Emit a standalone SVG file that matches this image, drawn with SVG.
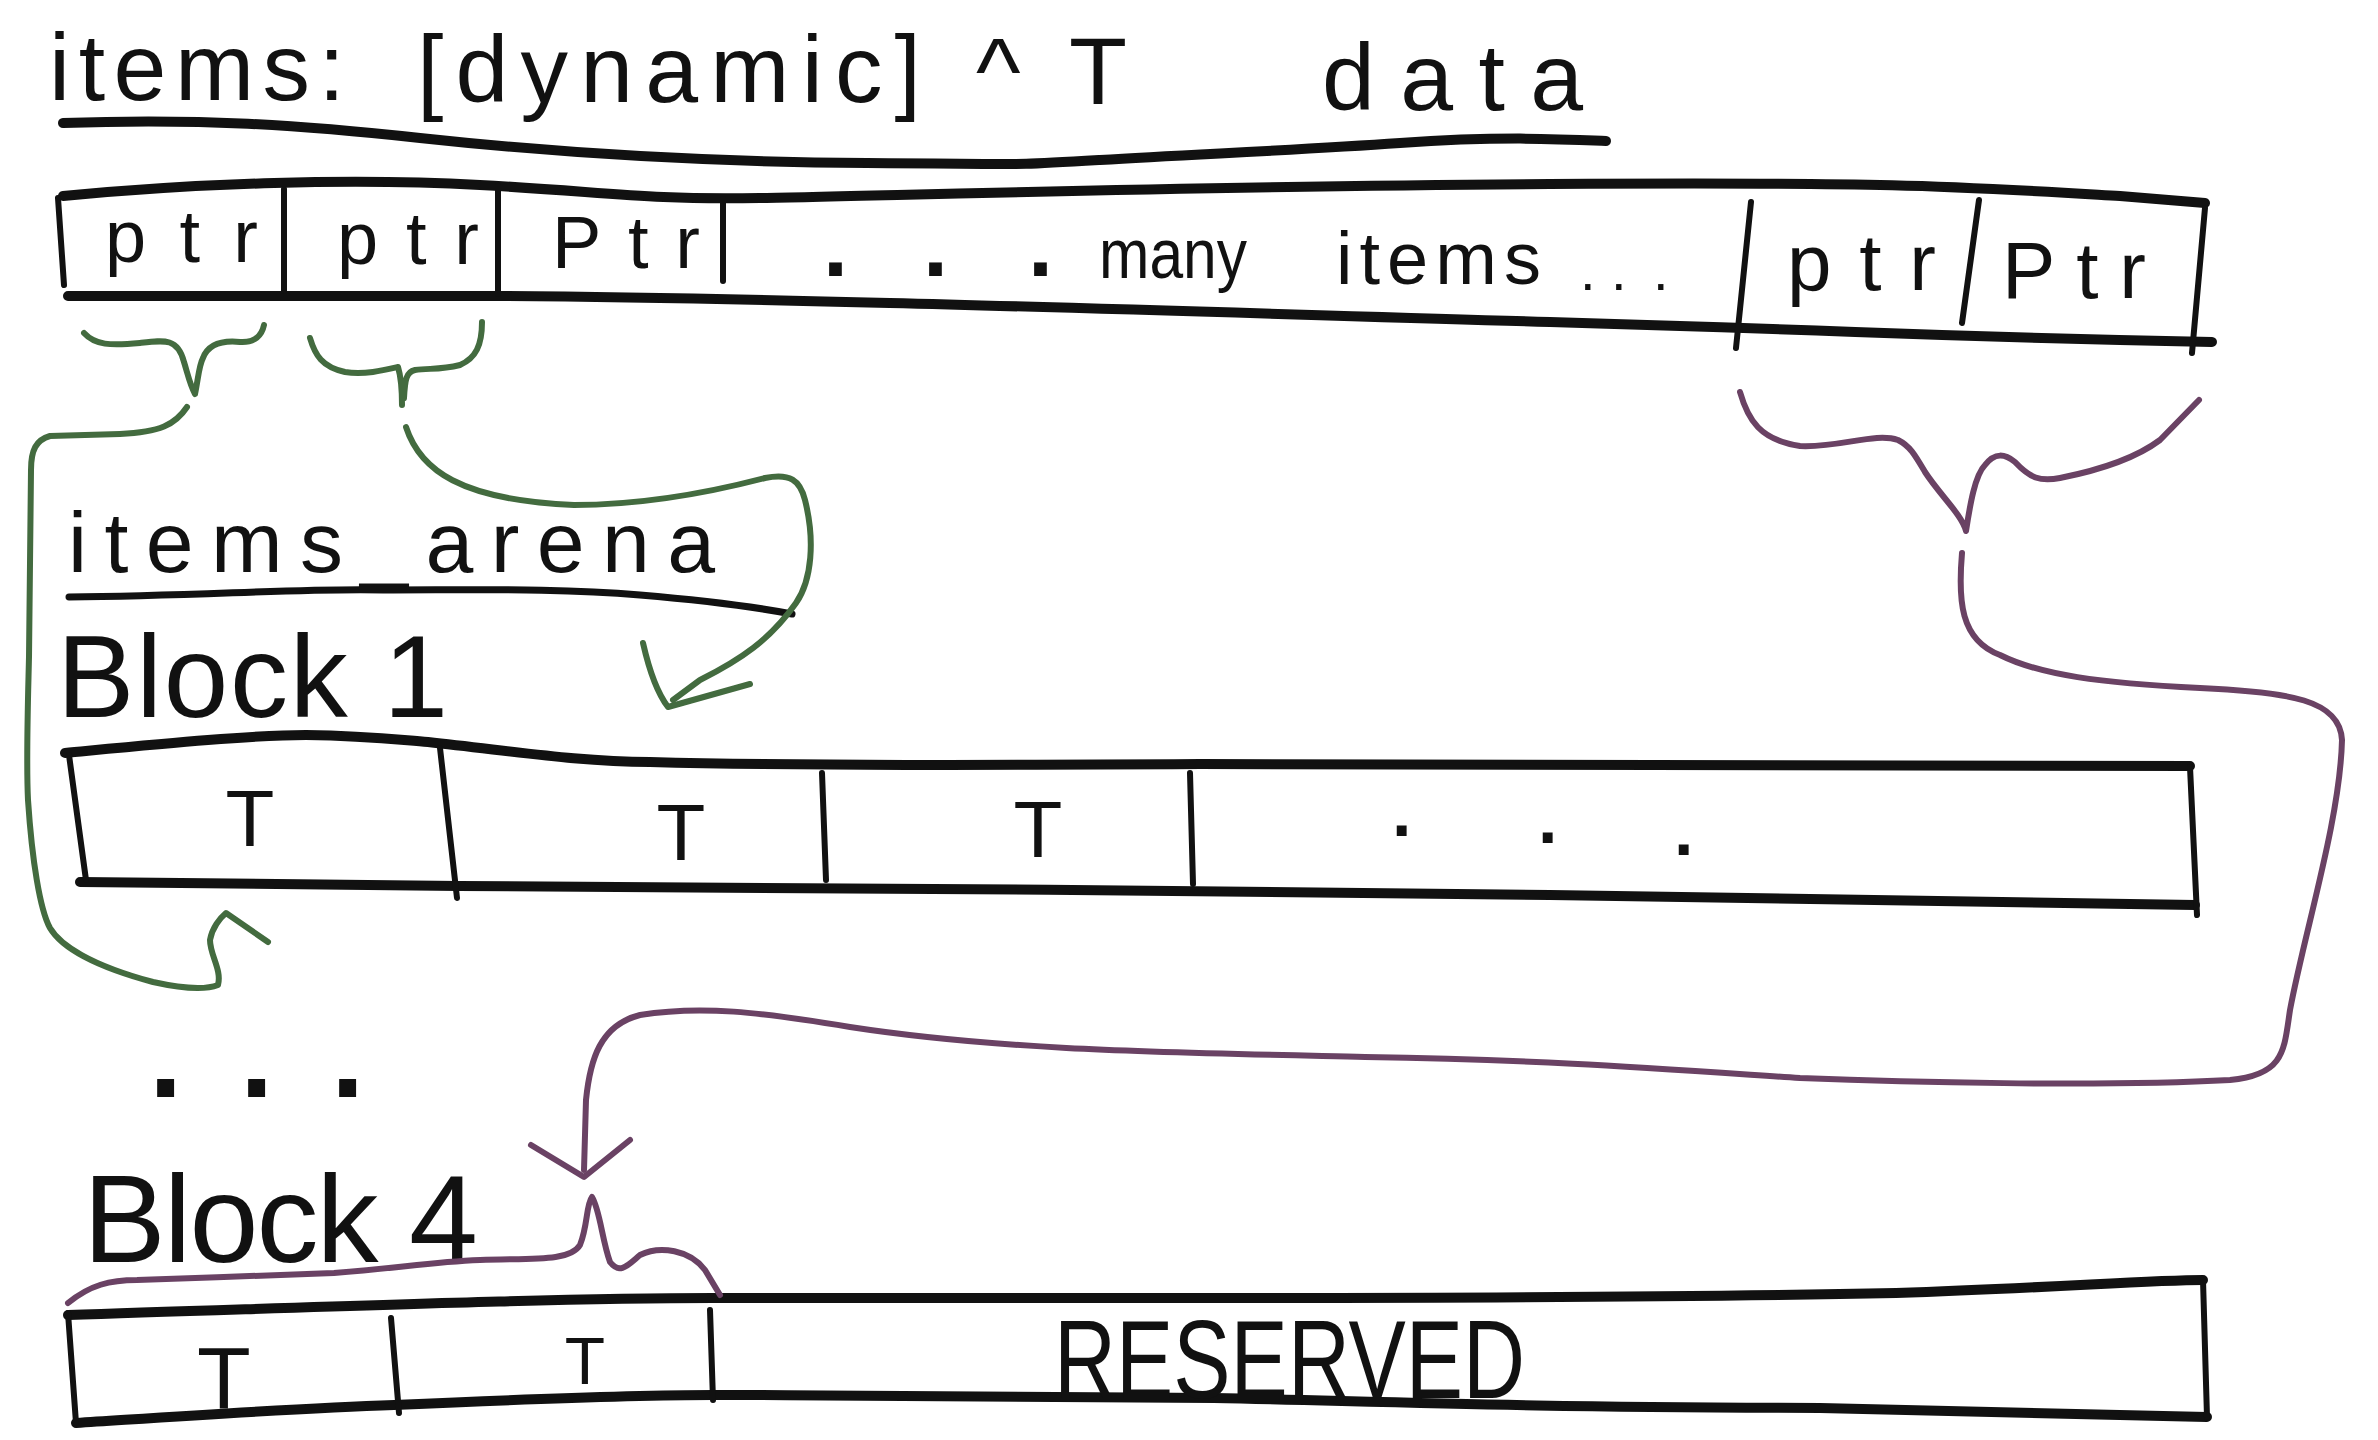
<svg xmlns="http://www.w3.org/2000/svg" width="2378" height="1440" viewBox="0 0 2378 1440">
<style>
.bg{fill:#ffffff}
.ink{fill:none;stroke:#111;stroke-linecap:round;stroke-linejoin:round}
.edge{stroke-width:10}
.div{stroke-width:6}
.t{font-family:"Liberation Sans","DejaVu Sans",sans-serif;fill:#111}
.green{fill:none;stroke:#436b3f;stroke-width:6;stroke-linecap:round;stroke-linejoin:round}
.purple{fill:none;stroke:#6a4264;stroke-width:6;stroke-linecap:round;stroke-linejoin:round}
</style>
<rect class="bg" x="0" y="0" width="2378" height="1440"/>

<g id="title">
  <text class="t" x="49" y="100" font-size="95" textLength="296">items:</text>
  <text class="t" x="417" y="102" font-size="95" textLength="504">[dynamic]</text>
  <text class="t" x="976" y="104" font-size="95" textLength="151">^T</text>
  <text class="t" x="1322" y="110" font-size="95" textLength="261">data</text>
  <path class="ink" stroke-width="10" d="M 63 123 C 200 118, 300 125, 420 138 S 700 162, 867 163 S 1000 166, 1100 160 S 1300 150, 1400 143 S 1560 139, 1606 141"/>
</g>

<g id="items-array">
  <path class="ink edge" d="M 63 196 C 200 183, 350 178, 480 185 S 640 200, 760 198 S 1200 186, 1550 184 S 1950 186, 2120 196 L 2205 203"/>
  <path class="ink edge" d="M 68 296 L 494 296 C 800 298, 1200 312, 1550 322 S 1900 336, 2212 342"/>
  <path class="ink div" d="M 58 198 L 64 285"/>
  <path class="ink div" d="M 284 189 L 284 291"/>
  <path class="ink div" d="M 498 186 L 498 294"/>
  <path class="ink div" d="M 723 199 L 723 281"/>
  <path class="ink div" d="M 1751 202 L 1736 348"/>
  <path class="ink div" d="M 1979 200 L 1962 323"/>
  <path class="ink div" d="M 2205 208 L 2192 353"/>
  <text class="t" x="105" y="262" font-size="74" textLength="153">ptr</text>
  <text class="t" x="337" y="264" font-size="74" textLength="142">ptr</text>
  <text class="t" x="552" y="268" font-size="74" textLength="148">Ptr</text>
  <text class="t" font-size="90" font-weight="bold" x="823 923 1028" y="276">...</text>
  <text class="t" x="1099" y="278" font-size="70" textLength="148" lengthAdjust="spacingAndGlyphs">many</text>
  <text class="t" x="1336" y="284" font-size="74" textLength="205">items</text>
  <text class="t" font-size="56" x="1580 1611 1653" y="290">...</text>
  <text class="t" x="1787" y="290" font-size="80" textLength="149">ptr</text>
  <text class="t" x="2002" y="298" font-size="80" textLength="144">Ptr</text>
</g>

<g id="items-arena-label">
  <text class="t" x="68" y="572" font-size="86" textLength="647">items_arena</text>
  <path class="ink" stroke-width="7" d="M 69 597 C 200 596, 300 588, 383 590 C 480 590, 560 588, 640 595 C 700 600, 750 606, 792 614"/>
</g>

<g id="block-1">
  <text class="t" x="57" y="717" font-size="116" textLength="391">Block 1</text>
  <path class="ink edge" d="M 65 753 C 150 745, 250 735, 306 735 C 370 736, 400 740, 428 742 C 520 752, 580 762, 650 762 C 800 766, 1000 765, 1200 764 L 2190 766"/>
  <path class="ink edge" d="M 80 882 L 459 886 C 800 888, 1200 890, 1550 895 L 2195 905"/>
  <path class="ink div" d="M 69 755 L 86 880"/>
  <path class="ink div" d="M 440 748 L 457 898"/>
  <path class="ink div" d="M 822 773 L 826 880"/>
  <path class="ink div" d="M 1190 773 L 1193 884"/>
  <path class="ink div" d="M 2190 767 L 2197 915"/>
  <text class="t" x="250" y="846" font-size="80" text-anchor="middle">T</text>
  <text class="t" x="681" y="860" font-size="80" text-anchor="middle">T</text>
  <text class="t" x="1038" y="857" font-size="80" text-anchor="middle">T</text>
  <text class="t" font-size="70" font-weight="bold" x="1392 1538 1674" y="836 843 855">...</text>
</g>

<g id="more-blocks">
  <text class="t" font-size="120" font-weight="bold" x="149 240 331" y="1097">...</text>
</g>

<g id="block-4">
  <text class="t" x="83" y="1262" font-size="124" textLength="395">Block 4</text>
  <path class="ink edge" d="M 68 1315 C 300 1308, 550 1298, 713 1298 L 1214 1298 C 1500 1298, 1700 1297, 1896 1293 C 2050 1288, 2150 1280, 2203 1280"/>
  <path class="ink edge" d="M 76 1423 C 200 1415, 300 1408, 394 1405 C 550 1398, 650 1395, 713 1395 C 900 1395, 1100 1398, 1214 1398 C 1400 1402, 1500 1407, 1820 1408 L 2207 1417"/>
  <path class="ink div" d="M 68 1313 L 76 1423"/>
  <path class="ink div" d="M 391 1318 L 399 1413"/>
  <path class="ink div" d="M 710 1310 L 713 1400"/>
  <path class="ink div" d="M 2203 1280 L 2207 1417"/>
  <text class="t" x="224" y="1408" font-size="88" text-anchor="middle">T</text>
  <text class="t" x="585" y="1384" font-size="66" text-anchor="middle">T</text>
  <text class="t" x="1054" y="1398" font-size="112" textLength="471" lengthAdjust="spacingAndGlyphs">RESERVED</text>
</g>

<g id="connectors">
  <path class="green" d="M 84 333 C 95 345, 110 346, 140 343 C 165 340, 178 338, 184 362 C 188 375, 190 385, 195 394 C 198 380, 199 365, 203 358 C 208 345, 220 340, 240 342 C 255 343, 262 335, 264 325"/>
  <path class="green" d="M 310 338 C 315 355, 322 367, 345 372 C 365 375, 385 370, 398 367 C 402 380, 402 395, 402 405 M 404 398 C 405 380, 406 372, 415 370 C 430 368, 440 370, 460 365 C 476 358, 482 345, 482 322"/>
  <path class="green" d="M 187 407 C 175 425, 160 432, 120 434 L 50 436 C 36 440, 31 450, 31 470 L 29 657 C 28 700, 26 760, 28 800 C 32 860, 40 910, 50 928 C 60 945, 90 965, 153 982 C 180 988, 205 990, 218 985 C 222 970, 210 955, 210 940 C 212 928, 220 918, 226 913 L 268 942"/>
  <path class="green" d="M 406 427 C 420 470, 460 500, 574 505 C 640 505, 700 495, 765 478 C 790 473, 800 480, 805 500 C 815 540, 812 580, 796 603 C 770 640, 740 660, 700 680 L 673 700"/>
  <path class="green" stroke-width="8" d="M 643 643 C 648 665, 655 690, 668 707 L 750 684"/>
  <path class="purple" d="M 1740 392 C 1748 420, 1760 440, 1800 446 C 1840 448, 1875 432, 1898 440 C 1910 446, 1915 455, 1925 472 C 1940 495, 1962 515, 1966 531 C 1970 505, 1975 475, 1985 465 C 1995 452, 2005 454, 2015 462 C 2030 478, 2040 482, 2060 478 C 2110 468, 2140 455, 2160 440 L 2199 400"/>
  <path class="purple" d="M 1962 553 C 1958 600, 1960 640, 2000 655 C 2040 675, 2100 683, 2200 688 C 2290 692, 2340 700, 2342 740 C 2340 820, 2305 930, 2290 1010 C 2284 1050, 2285 1075, 2230 1080 C 2100 1087, 1900 1082, 1800 1078 C 1650 1068, 1550 1060, 1365 1057 C 1150 1052, 1000 1050, 850 1027 C 760 1012, 700 1005, 640 1015 C 600 1025, 590 1060, 586 1100 L 584 1170"/>
  <path class="purple" d="M 531 1145 L 584 1177 L 630 1140"/>
  <path class="purple" d="M 68 1303 C 90 1285, 110 1280, 137 1280 C 200 1278, 280 1275, 334 1273 C 400 1268, 430 1262, 480 1260 C 530 1258, 570 1262, 580 1245 C 588 1225, 586 1205, 592 1197 C 600 1210, 602 1240, 610 1262 C 620 1275, 628 1265, 640 1255 C 660 1245, 690 1250, 705 1270 L 720 1295"/>
</g>
</svg>
